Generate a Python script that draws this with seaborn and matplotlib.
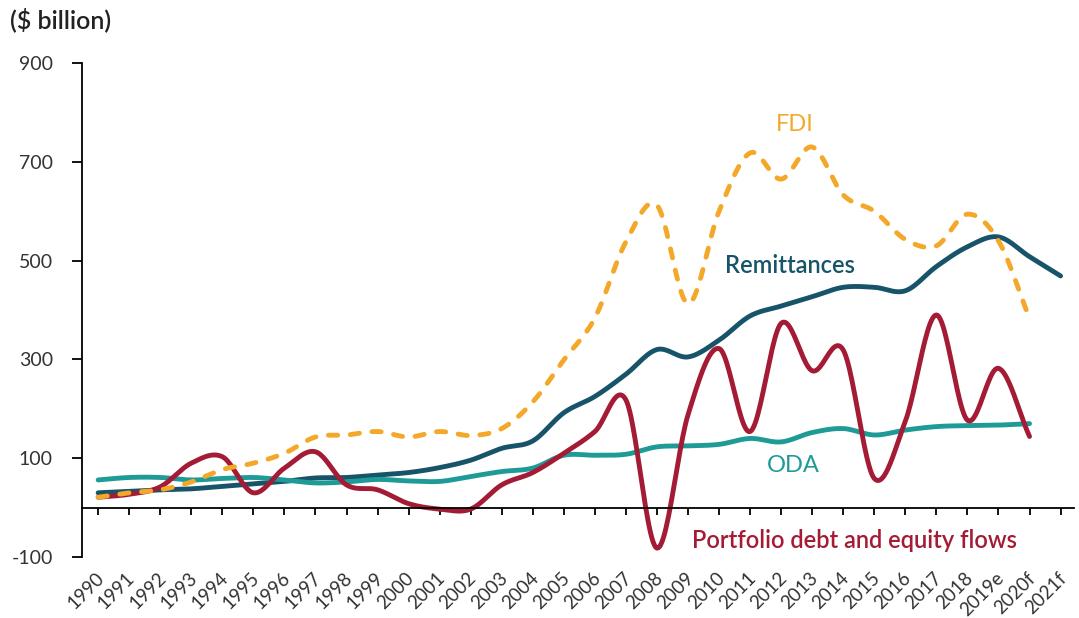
import numpy as np
import pandas as pd
import matplotlib
matplotlib.use("Agg")
import matplotlib.pyplot as plt
import matplotlib.transforms as mtransforms
import seaborn as sns

years = ["1990", "1991", "1992", "1993", "1994", "1995", "1996", "1997", "1998", "1999",
         "2000", "2001", "2002", "2003", "2004", "2005", "2006", "2007", "2008", "2009",
         "2010", "2011", "2012", "2013", "2014", "2015", "2016", "2017", "2018", "2019e",
         "2020f", "2021f"]

remittances = [30, 33, 36, 38, 43, 48, 53, 60, 61, 66,
               71, 81, 96, 120, 135, 192, 225, 270, 320, 305,
               339, 388, 408, 427, 446, 446, 439, 488, 528, 548,
               508, 469]
fdi = [21, 30, 36, 52, 77, 90, 110, 143, 147, 154,
       143, 154, 146, 160, 214, 299, 384, 538, 612, 413,
       600, 718, 665, 730, 633, 600, 543, 530, 594, 540,
       383]
oda = [56, 61, 61, 56, 59, 61, 56, 50, 52, 57,
       54, 53, 63, 73, 80, 106, 106, 108, 123, 125,
       128, 140, 133, 152, 160, 147, 157, 164, 166, 167,
       170]
portfolio = [21, 27, 42, 90, 103, 30, 80, 113, 46, 36,
             8, -3, -3, 46, 71, 110, 154, 218, -82, 188,
             322, 154, 373, 277, 319, 59, 175, 390, 177, 282,
             144]

yticks = [-100, 100, 300, 500, 700, 900]

C_REM = "#17546a"
C_FDI = "#f4a82a"
C_ODA = "#1e9a97"
C_PORT = "#a41b35"
C_TEXT = "#333333"


def smooth(values, n=24):
    y = np.asarray(values, dtype=float)
    x = np.arange(len(y), dtype=float)
    px = np.concatenate([[2 * x[0] - x[1]], x, [2 * x[-1] - x[-2]]])
    py = np.concatenate([[2 * y[0] - y[1]], y, [2 * y[-1] - y[-2]]])
    xs, ys = [], []
    t = np.linspace(0, 1, n, endpoint=False)
    for i in range(1, len(px) - 2):
        p0, p1, p2, p3 = py[i - 1], py[i], py[i + 1], py[i + 2]
        q0, q1, q2, q3 = px[i - 1], px[i], px[i + 1], px[i + 2]
        b1 = p1 + (p2 - p0) / 6
        b2 = p2 - (p3 - p1) / 6
        c1 = q1 + (q2 - q0) / 6
        c2 = q2 - (q3 - q1) / 6
        ys.append((1 - t) ** 3 * p1 + 3 * (1 - t) ** 2 * t * b1 + 3 * (1 - t) * t ** 2 * b2 + t ** 3 * p2)
        xs.append((1 - t) ** 3 * q1 + 3 * (1 - t) ** 2 * t * c1 + 3 * (1 - t) * t ** 2 * c2 + t ** 3 * q2)
    xs.append([x[-1]])
    ys.append([y[-1]])
    return np.concatenate(xs), np.concatenate(ys)


sns.set_theme(style="white")
plt.rcParams["font.family"] = ["Lato", "DejaVu Sans"]

fig = plt.figure(figsize=(10.79, 6.18), dpi=100)
ax = fig.add_axes([0.076, 0.0987, 0.919, 0.7993])

series = [(remittances, C_REM, None), (oda, C_ODA, None),
          (portfolio, C_PORT, None), (fdi, C_FDI, "dash")]
for vals, col, style in series:
    sx, sy = smooth(vals)
    df = pd.DataFrame({"x": sx, "y": sy})
    sns.lineplot(data=df, x="x", y="y", ax=ax, color=col, lw=3.5,
                 sort=False, estimator=None)
    ln = ax.get_lines()[-1]
    ln.set_solid_capstyle("round")
    if style == "dash":
        ln.set_dashes((1.9, 2.6))
        ln.set_dash_capstyle("round")

ax.set_xlim(-0.52, 31.42)
ax.set_ylim(-100, 900)
ax.set_xlabel("")
ax.set_ylabel("")

for s in ["top", "right"]:
    ax.spines[s].set_visible(False)
ax.spines["left"].set_color("black")
ax.spines["left"].set_linewidth(1.3)
ax.spines["bottom"].set_color("black")
ax.spines["bottom"].set_linewidth(1.3)
ax.spines["bottom"].set_position(("data", 0))
ax.tick_params(axis="y", direction="out", length=7, width=1.3, color="black", pad=14, left=True)
ax.tick_params(axis="x", direction="out", length=5, width=1.3, color="black", pad=44, bottom=True)

ax.set_yticks(yticks)
ax.set_yticklabels([str(v) for v in yticks], fontsize=14, color=C_TEXT)
ax.set_xticks(range(len(years)))
ax.set_xticklabels(years, fontsize=13.5, color=C_TEXT)

offset = mtransforms.ScaledTranslation(2 / 72, 0, fig.dpi_scale_trans)
for lab in ax.get_xticklabels():
    lab.set_rotation(45)
    lab.set_rotation_mode("anchor")
    lab.set_ha("right")
    lab.set_va("center")
    lab.set_transform(lab.get_transform() + offset)

ax.text(22.44, 776, "FDI", color=C_FDI, fontsize=17, ha="center", va="center")
ax.text(22.28, 491, "Remittances", color=C_REM, fontsize=17, ha="center", va="center",
        fontweight="semibold")
ax.text(22.38, 86, "ODA", color=C_ODA, fontsize=17, ha="center", va="center")
ax.text(24.37, -66, "Portfolio debt and equity flows", color=C_PORT, fontsize=17,
        ha="center", va="center", fontweight="semibold")

fig.text(10 / 1079, 1 - 20 / 618, "($ billion)", fontsize=18, color="#222222",
         ha="left", va="center", fontweight="semibold")

fig.savefig("out.png", dpi=100, facecolor="white")
